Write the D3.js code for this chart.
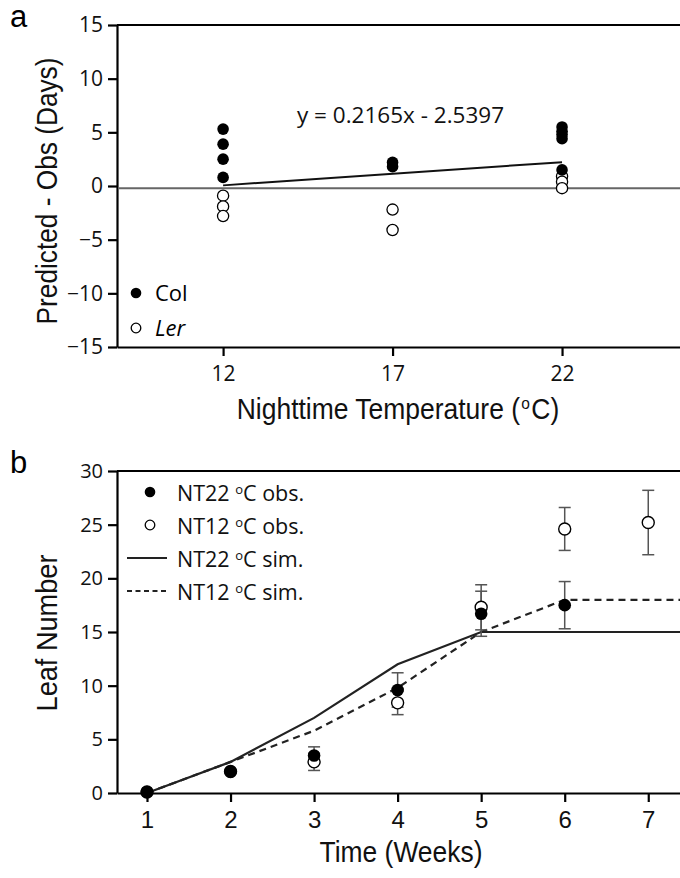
<!DOCTYPE html>
<html><head><meta charset="utf-8">
<script src="https://cdn.jsdelivr.net/npm/d3@7"></script>
<style>
body{margin:0;background:#fff}
svg{display:block}
.tick text{font-family:"Open Sans",sans-serif}
</style>
</head><body>
<svg id="fig" width="680" height="878"></svg>
<script>
// ---- Panel a: prediction error vs nighttime temperature ----
const nightTemps = [12, 17, 22];
const colTemp = [12, 12, 12, 12, 17, 17, 22, 22, 22, 22, 22];
const colDiff = [5.3, 3.9, 2.5, 0.8, 2.2, 1.8, 5.5, 5.1, 4.8, 4.4, 1.5];
const lerTemp = [12, 12, 12, 17, 17, 22, 22, 22];
const lerDiff = [-0.9, -1.9, -2.8, -2.2, -4.1, 0.9, 0.4, -0.2];
const fitSlope = 0.2165, fitIntercept = -2.5397;
const refLevel = -0.2;
const diffTicks = [-15, -10, -5, 0, 5, 10, 15];

// ---- Panel b: leaf number over time ----
const weekTicks = [1, 2, 3, 4, 5, 6, 7];
const nt22Weeks = [1, 2, 3, 4, 5, 6];
const nt22Obs = [0.1, 2.0, 3.5, 9.6, 16.7, 17.5];
const nt22Err = [0, 0, 0.8, 1.6, 2.1, 2.2];
const nt12Weeks = [1, 2, 3, 4, 5, 6, 7];
const nt12Obs = [0.1, 2.0, 2.9, 8.4, 17.3, 24.6, 25.2];
const nt12Err = [0, 0, 0.8, 1.1, 2.1, 2.0, 3.0];
const simWeeks = [1, 2, 3, 4, 5, 6, 7, 8];
const nt22Sim = [0, 2.9, 7.0, 12.0, 15.0, 15.0, 15.0, 15.0];
const nt12Sim = [0, 2.9, 5.8, 9.8, 15.0, 18.0, 18.0, 18.0];
const leafTicks = [0, 5, 10, 15, 20, 25, 30];

const svg = d3.select("#fig");
const W = 680;
const arial = '"Liberation Sans",Arial,sans-serif';
const sans = '"Open Sans",sans-serif';

function styleAxis(g, size) {
  g.select(".domain").attr("stroke", "#000").attr("stroke-width", 2.2);
  g.selectAll(".tick line").attr("stroke", "#000").attr("stroke-width", 2.2);
  g.selectAll(".tick text").attr("fill", "#111").style("font-size", size + "px");
}

// superscript "o" used for degree sign
function degText(sel, before, after, sup) {
  sel.append("tspan").text(before);
  sel.append("tspan").attr("dx", sup.gap).attr("dy", -sup.dy).style("font-size", sup.size + "px").text("o");
  sel.append("tspan").attr("dx", sup.gap).attr("dy", sup.dy).text(after);
}

// condensed axis title: squeeze horizontally to the wanted run length
function title(g, x, y, rot, len, build) {
  const t = g.append("text")
    .attr("text-anchor", "middle")
    .style("font-family", arial).style("font-size", "29px").attr("fill", "#111");
  build(t);
  const natural = t.node().getComputedTextLength();
  const sx = len / natural;
  t.attr("transform", `translate(${x},${y})` + (rot ? " rotate(-90)" : "") + ` scale(${sx},1)`);
  return t;
}

// ================= Panel a =================
const ax = d3.scaleLinear().domain([8.87, 25.48]).range([117, W]);
const ay = d3.scaleLinear().domain([-15, 15]).range([347, 25]);
const ga = svg.append("g");

ga.append("line").attr("x1", 117).attr("x2", W).attr("y1", ay(15)).attr("y2", ay(15))
  .attr("stroke", "#000").attr("stroke-width", 2.2);

ga.append("g").attr("transform", `translate(0,${ay(-15)})`)
  .call(d3.axisBottom(ax).tickValues(nightTemps).tickFormat(d3.format("d")).tickSize(9).tickSizeOuter(0).tickPadding(10))
  .call(g => styleAxis(g, 21));
ga.append("g").attr("transform", `translate(${ax.range()[0]},0)`)
  .call(d3.axisLeft(ay).tickValues(diffTicks).tickFormat(d3.format("d")).tickSize(9).tickSizeOuter(0).tickPadding(5))
  .call(g => styleAxis(g, 21));

// zero reference line
ga.append("line").attr("x1", 118).attr("x2", W).attr("y1", ay(refLevel)).attr("y2", ay(refLevel))
  .attr("stroke", "#666").attr("stroke-width", 2);

// regression line
const fit = d3.line().x(d => ax(d)).y(d => ay(fitSlope * d + fitIntercept));
ga.append("path").attr("d", fit([12, 22])).attr("fill", "none").attr("stroke", "#111").attr("stroke-width", 2);

ga.selectAll("circle.ler").data(lerDiff).join("circle").attr("class", "ler")
  .attr("cx", (d, i) => ax(lerTemp[i])).attr("cy", d => ay(d)).attr("r", 5.6)
  .attr("fill", "#fff").attr("stroke", "#000").attr("stroke-width", 1.3);
ga.selectAll("circle.col").data(colDiff).join("circle").attr("class", "col")
  .attr("cx", (d, i) => ax(colTemp[i])).attr("cy", d => ay(d)).attr("r", 5.8)
  .attr("fill", "#000");

ga.append("text").attr("x", 297).attr("y", 123).style("font-family", sans).style("font-size", "22.5px")
  .attr("fill", "#111").text(`y = ${fitSlope}x - ${Math.abs(fitIntercept)}`);

// legend a
ga.append("circle").attr("cx", 136).attr("cy", 293).attr("r", 5.3).attr("fill", "#000");
ga.append("text").attr("x", 155).attr("y", 301).style("font-family", sans).style("font-size", "22px").text("Col");
ga.append("circle").attr("cx", 136).attr("cy", 328).attr("r", 4.8).attr("fill", "#fff").attr("stroke", "#000").attr("stroke-width", 1.3);
ga.append("text").attr("x", 155).attr("y", 336).style("font-family", sans).style("font-size", "22px")
  .style("font-style", "italic").text("Ler");

title(ga, 398, 419, false, 320, t => degText(t, "Nighttime Temperature (", "C)", {dy: 10, size: 17, gap: 1.5}));
title(ga, 57, 191, true, 267, t => t.text("Predicted - Obs (Days)"));
ga.append("text").attr("x", 10).attr("y", 27).style("font-family", arial)
  .style("font-size", "31px").text("a");

// ================= Panel b =================
const bx = d3.scaleLinear().domain([0.641, 7.38]).range([117, W]);
const by = d3.scaleLinear().domain([0, 30]).range([793, 471]);
const gb = svg.append("g");

gb.append("line").attr("x1", 117).attr("x2", W).attr("y1", by(30)).attr("y2", by(30))
  .attr("stroke", "#000").attr("stroke-width", 2.2);

const xb = gb.append("g").attr("transform", `translate(0,${by(0)})`)
  .call(d3.axisBottom(bx).tickValues(weekTicks).tickFormat(d3.format("d")).tickSize(9).tickSizeOuter(0).tickPadding(9))
  .call(g => styleAxis(g, 24));
xb.selectAll(".tick text").style("font-family", arial);
gb.append("g").attr("transform", `translate(${bx.range()[0]},0)`)
  .call(d3.axisLeft(by).tickValues(leafTicks).tickFormat(d3.format("d")).tickSize(9).tickSizeOuter(0).tickPadding(5))
  .call(g => styleAxis(g, 20));

const simLine = d3.line().x((d, i) => bx(simWeeks[i])).y(d => by(d));
gb.append("path").attr("d", simLine(nt22Sim)).attr("fill", "none").attr("stroke", "#222").attr("stroke-width", 2.2);
gb.append("path").attr("d", simLine(nt12Sim)).attr("fill", "none").attr("stroke", "#222").attr("stroke-width", 2.2)
  .attr("stroke-dasharray", "7,5");

function errorBars(weeks, vals, errs) {
  const g = gb.append("g").attr("stroke", "#555").attr("stroke-width", 1.5);
  vals.forEach((v, i) => {
    if (!errs[i]) return;
    const x = bx(weeks[i]), y0 = by(v - errs[i]), y1 = by(v + errs[i]);
    g.append("line").attr("x1", x).attr("x2", x).attr("y1", y0).attr("y2", y1);
    g.append("line").attr("x1", x - 6).attr("x2", x + 6).attr("y1", y0).attr("y2", y0);
    g.append("line").attr("x1", x - 6).attr("x2", x + 6).attr("y1", y1).attr("y2", y1);
  });
}
errorBars(nt12Weeks, nt12Obs, nt12Err);
errorBars(nt22Weeks, nt22Obs, nt22Err);

gb.selectAll("circle.nt12").data(nt12Obs).join("circle").attr("class", "nt12")
  .attr("cx", (d, i) => bx(nt12Weeks[i])).attr("cy", d => by(d)).attr("r", 6)
  .attr("fill", "#fff").attr("stroke", "#000").attr("stroke-width", 1.4);
gb.selectAll("circle.nt22").data(nt22Obs).join("circle").attr("class", "nt22")
  .attr("cx", (d, i) => bx(nt22Weeks[i])).attr("cy", d => by(d)).attr("r", 6.3)
  .attr("fill", "#000");

// legend b
const legB = gb.append("g").style("font-family", sans).style("font-size", "21.5px").attr("fill", "#111");
const legRows = [
  {label: "NT22 ", tail: "C obs.", kind: "filled"},
  {label: "NT12 ", tail: "C obs.", kind: "open"},
  {label: "NT22 ", tail: "C sim.", kind: "solid"},
  {label: "NT12 ", tail: "C sim.", kind: "dashed"}
];
legRows.forEach((r, i) => {
  const cy = 492 + i * 33;
  if (r.kind === "filled") legB.append("circle").attr("cx", 150).attr("cy", cy).attr("r", 5.3).attr("fill", "#000");
  if (r.kind === "open") legB.append("circle").attr("cx", 150).attr("cy", cy).attr("r", 4.8)
    .attr("fill", "#fff").attr("stroke", "#000").attr("stroke-width", 1.3);
  if (r.kind === "solid" || r.kind === "dashed") legB.append("line").attr("x1", 127).attr("x2", 167)
    .attr("y1", cy).attr("y2", cy).attr("stroke", "#222").attr("stroke-width", 2)
    .attr("stroke-dasharray", r.kind === "dashed" ? "5,3.5" : null);
  legB.append("text").attr("x", 177).attr("y", cy + 9)
    .call(t => degText(t, r.label, r.tail, {dy: 7, size: 13, gap: 0}));
});

title(gb, 401, 862, false, 163, t => t.text("Time (Weeks)"));
title(gb, 57, 633, true, 157, t => t.text("Leaf Number"));
gb.append("text").attr("x", 10).attr("y", 473).style("font-family", arial)
  .style("font-size", "31px").text("b");
</script>
</body></html>
